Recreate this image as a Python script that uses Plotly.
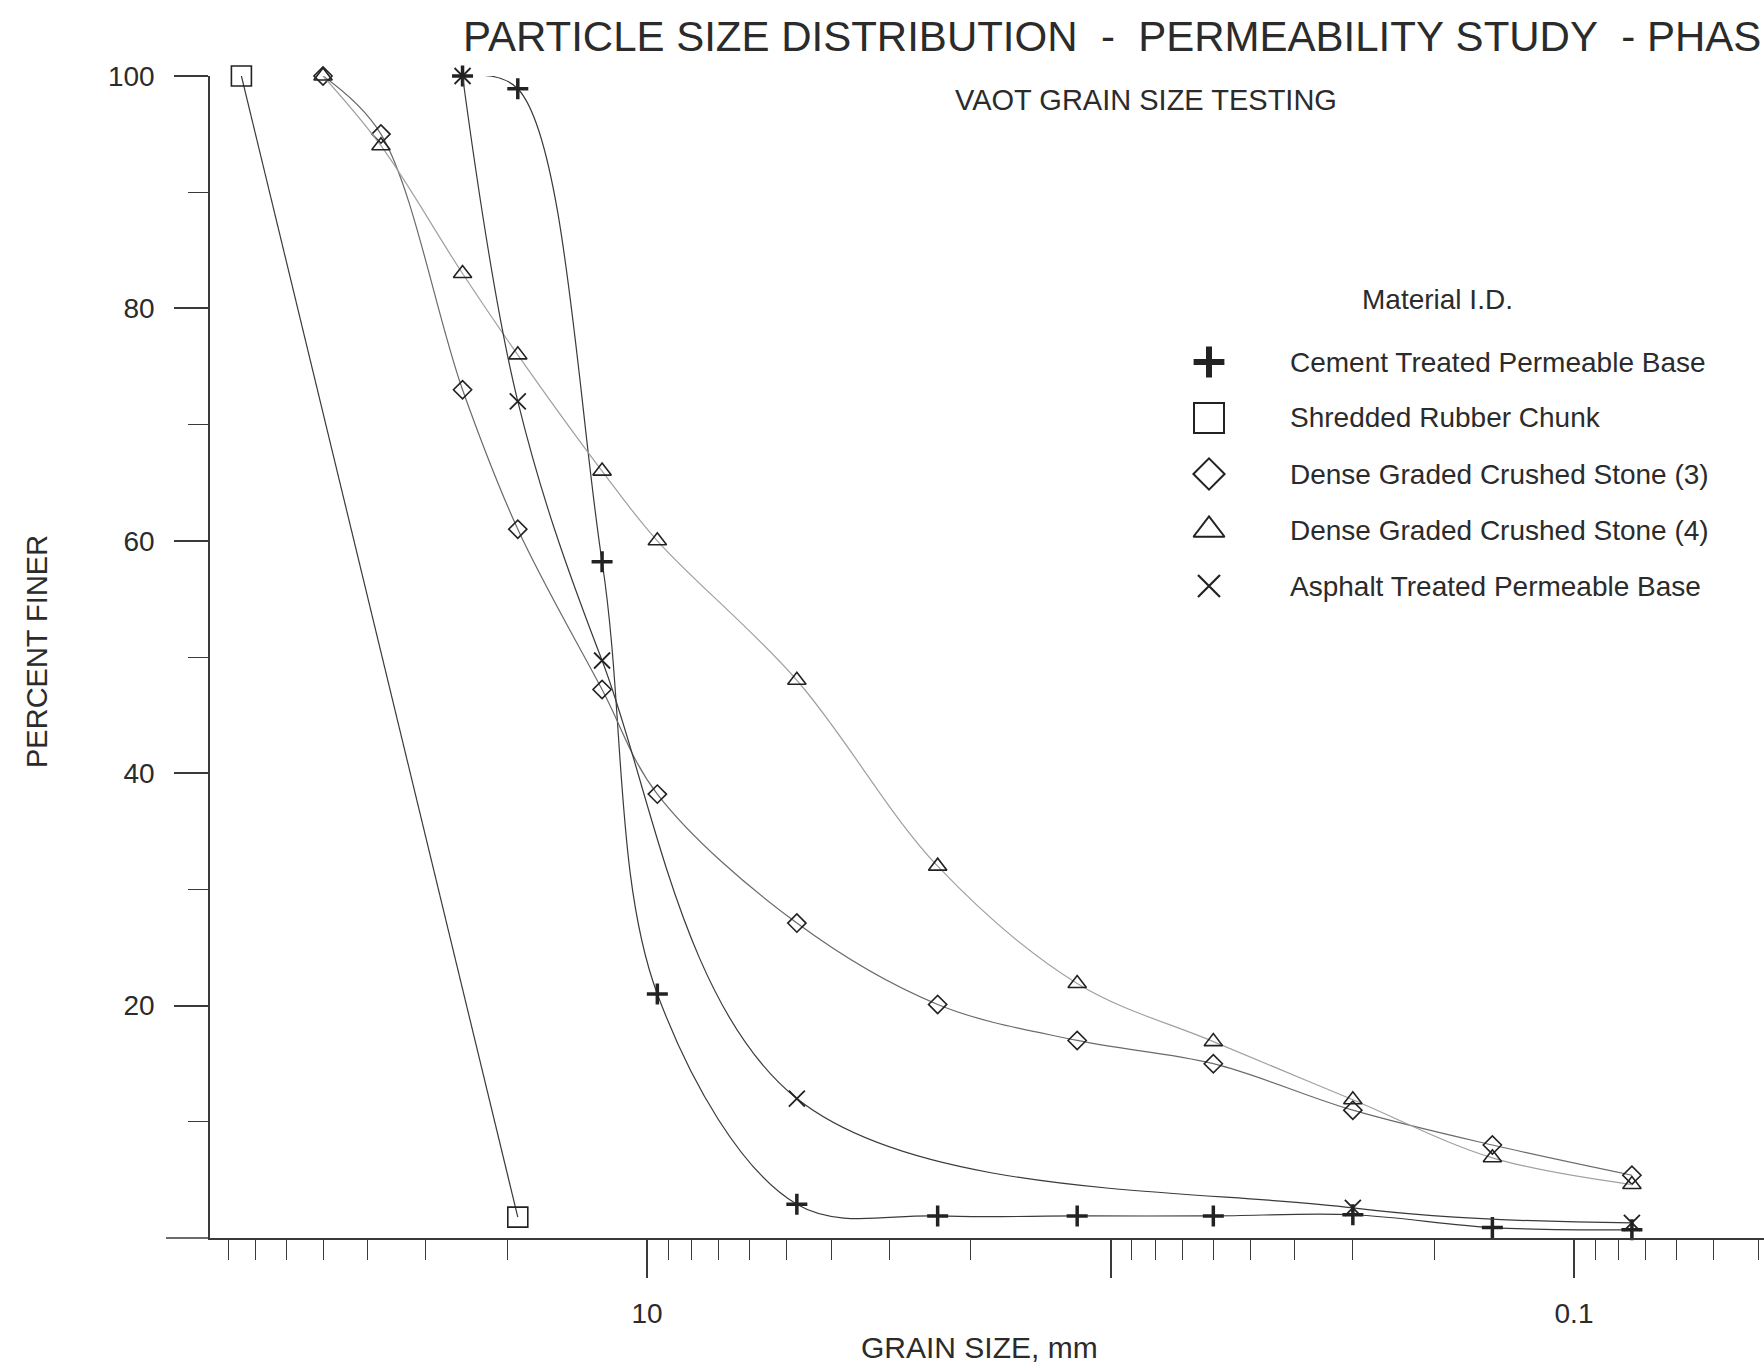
import plotly.graph_objects as go

# ---------------- data ----------------
cement_size = [25, 19, 12.5, 9.5, 4.75, 2.36, 1.18, 0.6, 0.3, 0.15, 0.075]
cement_pct = [100, 98.9, 58.2, 21.0, 2.9, 1.9, 1.9, 1.9, 2.0, 0.9, 0.7]

rubber_size = [75, 19]
rubber_pct = [100, 1.8]

dgcs3_size = [50, 37.5, 25, 19, 12.5, 9.5, 4.75, 2.36, 1.18, 0.6, 0.3, 0.15, 0.075]
dgcs3_pct = [100, 95, 73, 61, 47.2, 38.2, 27.1, 20.1, 17.0, 15.0, 11.0, 8.0, 5.4]

dgcs4_size = [50, 37.5, 25, 19, 12.5, 9.5, 4.75, 2.36, 1.18, 0.6, 0.3, 0.15, 0.075]
dgcs4_pct = [100, 94, 83, 76, 66, 60, 48, 32, 21.9, 16.9, 11.9, 6.9, 4.6]

asphalt_size = [25, 19, 12.5, 4.75, 0.3, 0.075]
asphalt_pct = [100, 72, 49.7, 12.0, 2.6, 1.3]

series_names = [
    "Cement Treated Permeable Base",
    "Shredded Rubber Chunk",
    "Dense Graded Crushed Stone (3)",
    "Dense Graded Crushed Stone (4)",
    "Asphalt Treated Permeable Base",
]

x_major_ticks = [10, 1, 0.1]
x_major_labels = ["10", "", "0.1"]
y_major_ticks = [20, 40, 60, 80, 100]
y_minor_ticks = [10, 30, 50, 70, 90]

title_text = "PARTICLE SIZE DISTRIBUTION  -  PERMEABILITY STUDY  - PHASE"
subtitle_text = "VAOT GRAIN SIZE TESTING"
legend_title = "Material I.D."
x_title = "GRAIN SIZE, mm"
y_title = "PERCENT FINER"

# ---------------- styling ----------------
W, H = 1764, 1370
ML, MR, MT, MB = 210, 0, 76, 132
PW, PH = W - ML - MR, H - MT - MB
FONT = "Liberation Sans, Arial, Helvetica, sans-serif"
TXT = "#2b2b2b"
AX = "#3a3a3a"

def px_to_paper(px, py):
    return (px - ML) / PW, (H - MB - py) / PH

styles = [
    dict(symbol="cross-thin-open", size=15, lw=3.5, line="#3a3a3a", lsym=22, llw=6),
    dict(symbol="square-open", size=20, lw=1.6, line="#3a3a3a", lsym=30, llw=2),
    dict(symbol="diamond-open", size=14, lw=1.6, line="#6a6a6a", lsym=24, llw=2),
    dict(symbol="triangle-up-open", size=16, lw=1.6, line="#a0a0a0", lsym=27, llw=2),
    dict(symbol="x-thin-open", size=16, lw=1.8, line="#3a3a3a", lsym=22, llw=2.2),
]
data_x = [cement_size, rubber_size, dgcs3_size, dgcs4_size, asphalt_size]
data_y = [cement_pct, rubber_pct, dgcs3_pct, dgcs4_pct, asphalt_pct]

fig = go.Figure()
for name, xs, ys, st in zip(series_names, data_x, data_y, styles):
    fig.add_trace(go.Scatter(
        x=xs, y=ys, name=name, mode="lines+markers",
        line=dict(color=st["line"], width=1.2, shape="spline", smoothing=1),
        marker=dict(symbol=st["symbol"], size=st["size"], color="#222",
                    line=dict(color="#222", width=st["lw"])),
        cliponaxis=False, showlegend=False,
    ))

# ---- hand-made legend (big symbols) on an overlay axis ----
sym_px = 1209
row_py = [362 + 56 * i for i in range(len(series_names))]
for i, (name, st) in enumerate(zip(series_names, styles)):
    sx, sy = px_to_paper(sym_px, row_py[i])
    fig.add_trace(go.Scatter(
        x=[sx], y=[sy], mode="markers", xaxis="x2", yaxis="y2",
        marker=dict(symbol=st["symbol"], size=st["lsym"], color="#222",
                    line=dict(color="#222", width=st["llw"])),
        showlegend=False, hoverinfo="skip", cliponaxis=False,
    ))

annotations = []
tx, _ = px_to_paper(1288, 0)
for i, name in enumerate(series_names):
    _, ty = px_to_paper(0, row_py[i])
    annotations.append(dict(x=tx, y=ty, xref="paper", yref="paper", text=name,
                            showarrow=False, xanchor="left", yanchor="middle",
                            font=dict(family=FONT, size=28, color=TXT)))
lx, ly = px_to_paper(1437, 300)
annotations.append(dict(x=lx, y=ly, xref="paper", yref="paper", text=legend_title,
                        showarrow=False, xanchor="center", yanchor="middle",
                        font=dict(family=FONT, size=28, color=TXT)))

# titles (the reference's title runs past the right edge of the page)
t_x, t_y = px_to_paper(461, 36)
annotations.append(dict(x=t_x, y=t_y, xref="paper", yref="paper",
                        text=title_text.replace(" ", "\u00a0"),
                        showarrow=False, xanchor="left", yanchor="middle",
                        font=dict(family=FONT, size=42, color=TXT)))
s_x, s_y = px_to_paper(1146, 100)
annotations.append(dict(x=s_x, y=s_y, xref="paper", yref="paper", text=subtitle_text,
                        showarrow=False, xanchor="center", yanchor="middle",
                        font=dict(family=FONT, size=29, color=TXT)))
xt_x, xt_y = px_to_paper(979, 1347)
annotations.append(dict(x=xt_x, y=xt_y, xref="paper", yref="paper", text=x_title,
                        showarrow=False, xanchor="center", yanchor="middle",
                        font=dict(family=FONT, size=30, color=TXT)))
yt_x, yt_y = px_to_paper(37, 652)
annotations.append(dict(x=yt_x, y=yt_y, xref="paper", yref="paper", text=y_title,
                        showarrow=False, xanchor="center", yanchor="middle", textangle=-90,
                        font=dict(family=FONT, size=29, color=TXT)))

# x-axis line extension to the left of the y axis
ext_x, _ = px_to_paper(166, 0)
shapes = [dict(type="line", xref="paper", yref="paper", x0=ext_x, x1=0, y0=0, y1=0,
               line=dict(color=AX, width=1.5))]

x_minor = [m * 10 ** e for e in range(-2, 2) for m in range(2, 10)]

# log range: 10 mm at px ~647, one decade = 463.5 px
dec = 463.5
ten_px = 647
x_left = 1 + (ten_px - ML) / dec
x_right = 1 - (W - MR - ten_px) / dec

fig.update_layout(
    width=W, height=H,
    margin=dict(l=ML, r=MR, t=MT, b=MB),
    paper_bgcolor="white", plot_bgcolor="white",
    font=dict(family=FONT, size=28, color=TXT),
    showlegend=False,
    annotations=annotations,
    shapes=shapes,
    xaxis=dict(
        type="log", range=[x_left, x_right], autorange=False,
        showgrid=False, zeroline=False,
        showline=True, linecolor=AX, linewidth=1.5,
        ticks="outside", ticklen=38, tickwidth=1.5, tickcolor=AX,
        tickmode="array", tickvals=x_major_ticks, ticktext=x_major_labels,
        ticklabelstandoff=12,
        tickfont=dict(family=FONT, size=28, color=TXT),
        minor=dict(tickmode="array", tickvals=x_minor, ticks="outside",
                   ticklen=20, tickwidth=1.3, tickcolor=AX, showgrid=False),
    ),
    yaxis=dict(
        range=[0, 100], autorange=False,
        showgrid=False, zeroline=False,
        showline=True, linecolor=AX, linewidth=1.5,
        ticks="outside", ticklen=34, tickwidth=1.5, tickcolor=AX,
        tickmode="array", tickvals=y_major_ticks,
        ticklabelstandoff=14,
        tickfont=dict(family=FONT, size=28, color=TXT),
        minor=dict(tickmode="array", tickvals=y_minor_ticks, ticks="outside",
                   ticklen=20, tickwidth=1.3, tickcolor=AX, showgrid=False),
    ),
    xaxis2=dict(overlaying="x", anchor="y2", range=[0, 1], visible=False, fixedrange=True),
    yaxis2=dict(overlaying="y", anchor="x2", range=[0, 1], visible=False, fixedrange=True),
)

fig.write_html("out.html")
